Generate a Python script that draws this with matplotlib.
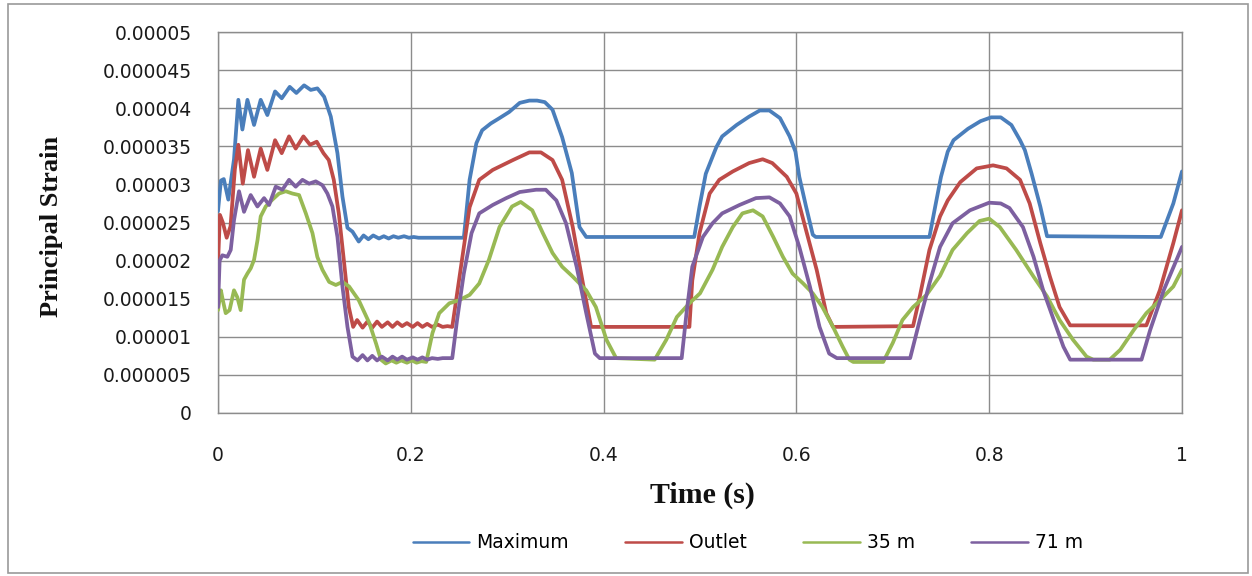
import numpy as np
import matplotlib
matplotlib.use("Agg")
import matplotlib.pyplot as plt
from matplotlib.patches import Rectangle
from matplotlib.ticker import FixedLocator, FixedFormatter

# Principal strain histories (values in micro-strain, time in seconds)
max_t = [0, .003, .006, .0107, .0166, .0211, .0253, .0305, .0374, .0443, .0512, .0592, .0661,
         .0744, .0813, .0893, .0962, .1031, .1101, .1170, .1239, .1291, .1343, .1395, .146,
         .151, .156, .161, .167, .172, .177, .182, .187, .193, .198, .203, .208, .255,
         .261, .268, .274, .283, .292, .302, .313, .323, .331, .339, .347, .357, .367, .375,
         .382, .494, .4995, .506, .517, .523, .538, .551, .562, .572, .583, .593, .599, .603,
         .610, .617, .620, .738, .744, .750, .757, .763, .778, .791, .802, .812, .823, .832,
         .837, .844, .853, .860, .978, .991, 1.0]
max_v = [26.5, 30.5, 30.7, 28.0, 33.3, 41.1, 37.2, 41.1, 37.8, 41.1, 39.1, 42.2, 41.3,
         42.8, 42.0, 43.0, 42.4, 42.6, 41.5, 38.9, 34.1, 28.4, 24.3, 23.8, 22.5,
         23.3, 22.8, 23.3, 22.9, 23.2, 22.9, 23.2, 23.0, 23.2, 23.0, 23.1, 23.0, 23.0,
         30.6, 35.4, 37.1, 38.0, 38.7, 39.5, 40.7, 41.0, 41.0, 40.8, 39.8, 36.2, 31.5, 24.4,
         23.1, 23.1, 27.1, 31.4, 34.9, 36.3, 37.8, 38.9, 39.7, 39.7, 38.7, 36.3, 34.3, 31.0,
         27.1, 23.4, 23.1, 23.1, 27.1, 31.0, 34.3, 35.8, 37.3, 38.3, 38.8, 38.8, 37.8, 35.8,
         34.5, 31.4, 27.1, 23.2, 23.1, 27.5, 31.7]

outlet_t = [0, .002, .005, .009, .013, .0175, .0211, .0257, .0311, .0374, .0443, .0512, .0592,
            .0661, .0737, .0806, .0886, .0955, .1024, .1094, .1149, .1201, .1253, .1305, .1357,
            .1402, .1443, .150, .155, .160, .165, .170, .176, .181, .186, .191, .196, .202,
            .207, .212, .217, .222, .228, .233, .238, .243, .25, .261, .271, .285, .306, .323,
            .335, .347, .357, .368, .378, .387, .489, .492, .4995, .51, .52, .534, .551, .565,
            .575, .590, .600, .610, .621, .631, .638, .721, .728, .738, .749, .757, .770, .787,
            .804, .818, .832, .842, .853, .863, .873, .884, .963, .977, .991, 1.0]
outlet_v = [19.5, 26.0, 25.0, 23.0, 24.5, 32.0, 35.2, 30.1, 34.5, 31.0, 34.7, 31.9, 35.8,
            34.1, 36.3, 34.7, 36.3, 35.2, 35.6, 34.1, 33.2, 30.6, 26.2, 20.1, 13.9,
            11.3, 12.2, 11.2, 12.0, 11.2, 12.0, 11.3, 11.9, 11.3, 11.9, 11.4, 11.8, 11.3,
            11.8, 11.3, 11.7, 11.3, 11.6, 11.3, 11.4, 11.3, 17.4, 27.0, 30.6, 31.9, 33.2, 34.2,
            34.2, 33.2, 30.6, 24.4, 17.4, 11.3, 11.3, 17.4, 23.6, 28.8, 30.6, 31.7, 32.8, 33.3,
            32.8, 31.0, 28.8, 24.0, 18.8, 13.1, 11.3, 11.4, 15.3, 21.4, 25.8, 27.9, 30.3, 32.1,
            32.5, 32.1, 30.6, 27.5, 22.3, 17.9, 13.9, 11.5, 11.5, 16.1, 22.3, 26.6]

m35_t = [0, .003, .005, .008, .012, .0166, .020, .0235, .027, .0305, .034, .0374, .041, .0443,
         .0495, .0564, .0633, .0703, .0772, .0841, .0911, .098, .103, .1083, .1153, .1222, .129,
         .136, .146, .157, .164, .169, .174, .180, .185, .190, .196, .201, .206, .211, .216,
         .2225, .2295, .24, .25, .261, .271, .281, .292, .305, .314, .326, .337, .347, .357,
         .368, .382, .392, .403, .413, .453, .465, .476, .489, .5, .513, .523, .534, .544, .555,
         .565, .576, .586, .596, .607, .617, .627, .638, .648, .655, .659, .690, .700, .710,
         .721, .735, .749, .762, .777, .790, .800, .811, .828, .846, .860, .873, .887, .901,
         .908, .925, .936, .950, .963, .977, .991, 1.0]
m35_v = [13.5, 16.1, 14.8, 13.1, 13.5, 16.1, 15.2, 13.5, 17.5, 18.3, 19.0, 20.1, 22.7, 25.8,
         27.1, 28.0, 28.8, 29.1, 28.8, 28.6, 26.2, 23.6, 20.5, 18.8, 17.2, 16.8, 17.2,
         16.6, 14.8, 11.8, 9.1, 7.0, 6.5, 6.9, 6.6, 6.9, 6.6, 6.9, 6.6, 6.8, 6.7,
         10.5, 13.1, 14.4, 14.8, 15.5, 17.0, 20.1, 24.4, 27.1, 27.7, 26.6, 23.6, 21.0, 19.2,
         17.9, 16.1, 13.9, 9.6, 7.2, 7.0, 9.6, 12.6, 14.4, 15.7, 18.8, 21.8, 24.4, 26.2, 26.6,
         25.8, 23.1, 20.5, 18.3, 17.0, 15.7, 13.9, 11.3, 8.7, 7.0, 6.7, 6.7, 9.2, 12.2,
         13.9, 15.5, 18.0, 21.4, 23.6, 25.2, 25.5, 24.4, 21.4, 17.9, 15.3, 12.2, 9.6, 7.4,
         7.0, 7.0, 8.3, 10.9, 13.1, 14.8, 16.6, 18.8]

m71_t = [0, .0017, .0045, .0097, .0132, .0166, .0218, .0270, .0339, .0409, .0478, .0530, .0599,
         .0668, .0737, .0806, .0876, .0945, .1014, .1083, .1135, .1187, .1239, .1291, .1343,
         .1395, .1447, .150, .155, .160, .165, .170, .176, .181, .186, .191, .196, .202, .207,
         .212, .217, .222, .228, .233, .243, .248, .255, .263, .271, .285, .299, .313, .330,
         .340, .351, .361, .372, .382, .391, .396, .481, .486, .492, .503, .513, .523, .541,
         .558, .572, .583, .593, .603, .614, .624, .634, .642, .718, .728, .738, .749, .762,
         .780, .800, .812, .821, .835, .846, .856, .867, .877, .884, .958, .967, .981, 1.0]
m71_v = [13.9, 20.0, 20.7, 20.5, 21.4, 25.3, 29.1, 26.4, 28.6, 27.1, 28.2, 27.3, 29.7,
         29.3, 30.6, 29.7, 30.6, 30.1, 30.4, 29.9, 28.8, 27.1, 23.1, 16.6, 11.3,
         7.4, 6.9, 7.6, 6.9, 7.5, 6.9, 7.4, 6.9, 7.4, 7.0, 7.4, 7.0, 7.3, 7.0,
         7.3, 7.0, 7.2, 7.1, 7.2, 7.2, 12.2, 18.3, 23.6, 26.2, 27.3, 28.2, 29.0, 29.3,
         29.3, 27.9, 24.9, 19.2, 13.1, 7.8, 7.2, 7.2, 13.1, 19.2, 23.1, 24.9, 26.2, 27.3,
         28.2, 28.3, 27.5, 25.8, 21.8, 16.6, 11.3, 7.8, 7.2, 7.2, 12.2, 17.0, 21.8, 24.9,
         26.6, 27.6, 27.5, 26.9, 24.4, 20.5, 16.1, 12.2, 8.7, 7.0, 7.0, 10.9, 16.1, 21.8]

series_names = ["Maximum", "Outlet", "35 m", "71 m"]
series_colors = ["#4A7EBB", "#BE4B48", "#98B954", "#7D60A0"]

y_ticks = [0, 5e-6, 1e-5, 1.5e-5, 2e-5, 2.5e-5, 3e-5, 3.5e-5, 4e-5, 4.5e-5, 5e-5]
y_tick_labels = ["0", "0.000005", "0.00001", "0.000015", "0.00002", "0.000025",
                 "0.00003", "0.000035", "0.00004", "0.000045", "0.00005"]
x_ticks = [0, 0.2, 0.4, 0.6, 0.8, 1.0]
x_tick_labels = ["0", "0.2", "0.4", "0.6", "0.8", "1"]

W, H = 1252, 576
fig = plt.figure(figsize=(W / 100, H / 100), dpi=100)
fig.patch.set_facecolor("white")

# Chart-area frame
fig.patches.append(Rectangle((8 / W, 1 - 573 / H), 1240 / W, 569 / H,
                             transform=fig.transFigure, fill=False,
                             edgecolor="#9a9a9a", linewidth=1.2))

ax = fig.add_axes([218 / W, 1 - 413 / H, (1182 - 218) / W, (413 - 32) / H])

grid_color = "#8c8c8c"
for t, v, name, col in zip([max_t, outlet_t, m35_t, m71_t],
                           [max_v, outlet_v, m35_v, m71_v],
                           series_names, series_colors):
    ax.plot(t, np.array(v) * 1e-6, color=col, linewidth=2.7, label=name,
            solid_joinstyle="round", solid_capstyle="round", zorder=3)

ax.set_xlim(0, 1)
ax.set_ylim(0, 5e-5)
ax.xaxis.set_major_locator(FixedLocator(x_ticks))
ax.xaxis.set_major_formatter(FixedFormatter(x_tick_labels))
ax.yaxis.set_major_locator(FixedLocator(y_ticks))
ax.yaxis.set_major_formatter(FixedFormatter(y_tick_labels))
ax.grid(True, color=grid_color, linewidth=1.0, zorder=0)
for s in ax.spines.values():
    s.set_color(grid_color)
    s.set_linewidth(1.0)
ax.tick_params(axis="both", length=0, labelsize=13.5, labelcolor="#1a1a1a")
ax.tick_params(axis="y", pad=19)
ax.tick_params(axis="x", pad=24)
for lab in ax.get_xticklabels() + ax.get_yticklabels():
    lab.set_family("DejaVu Sans")

fig.text(52 / W, 1 - 226 / H, "Principal Strain", rotation=90, ha="center", va="center",
         fontsize=19, fontweight="bold", family="Liberation Serif", color="#111111")
fig.text(702 / W, 1 - 495 / H, "Time (s)", ha="center", va="center",
         fontsize=21.5, fontweight="bold", family="Liberation Serif", color="#111111")

handles, labels = ax.get_legend_handles_labels()
leg = fig.legend(handles, labels, loc="center", bbox_to_anchor=(748 / W, 1 - 543 / H),
                 ncol=4, frameon=False, prop={"family": "DejaVu Sans", "size": 13.5},
                 handlelength=3.0, handletextpad=0.4, columnspacing=3.0)
for line in leg.get_lines():
    line.set_linewidth(1.8)

fig.savefig("out.png", dpi=100)
